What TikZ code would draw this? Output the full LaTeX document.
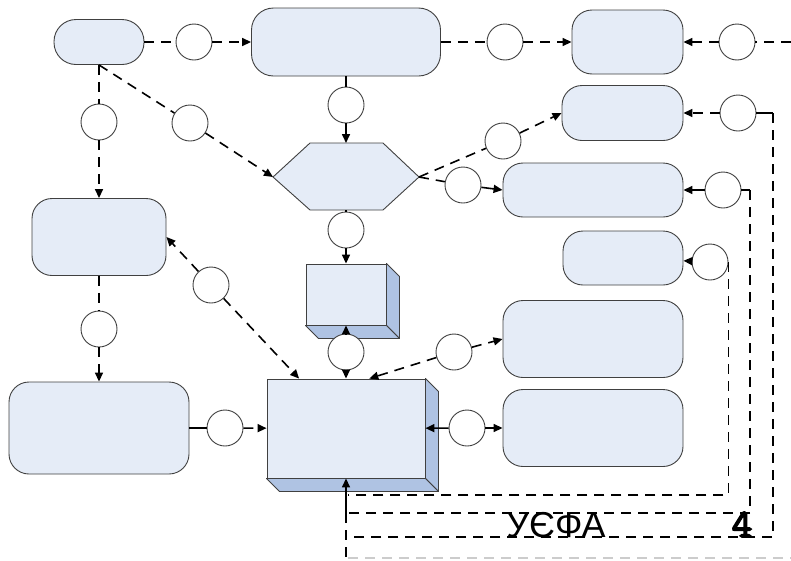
\documentclass[tikz,border=0pt]{standalone}
\usepackage{fontspec}
\usetikzlibrary{arrows.meta}
\newfontfamily\uefafont{Liberation Sans}
\newfontfamily\numfont[FakeBold=4]{Latin Modern Mono}
\definecolor{boxfill}{HTML}{E5ECF7}
\definecolor{boxside}{HTML}{AFC3E3}
\tikzset{
  proc/.style={draw=black!75, fill=boxfill, line width=0.9pt, rounded corners=20pt, inner sep=0pt},
  cube/.style={draw=black!75, fill=boxfill, line width=0.9pt, inner sep=0pt},
  side/.style={draw=black!75, fill=boxside, line width=0.9pt, line join=round},
  ring/.style={draw=black!75, fill=white, circle, line width=0.9pt, minimum size=36pt, inner sep=0pt},
  link/.style={line width=1.6pt},
  flow/.style={link, dash pattern=on 10pt off 7pt},
  tip/.style={-{Triangle[length=9pt,width=8pt]}},
}
\begin{document}
\begin{tikzpicture}[x=1pt, y=-1pt]
      \useasboundingbox (0,0) rectangle (791,560);

      % Rounded process boxes
      \node[proc, rounded corners=22pt, minimum width=90pt, minimum height=45pt] (pill) at (99,42) {};
      \node[proc, rounded corners=22pt, minimum width=189pt, minimum height=68pt] (toprect) at (346,42) {};
      \node[proc, minimum width=111pt, minimum height=64pt] (rr1) at (627.5,42) {};
      \node[proc, minimum width=121pt, minimum height=55pt] (rr2) at (622.5,113) {};
      \node[proc, minimum width=180pt, minimum height=54pt] (rr3) at (593,190) {};
      \node[proc, minimum width=120pt, minimum height=54pt] (rr4) at (623,258) {};
      \node[proc, minimum width=134pt, minimum height=77pt] (leftrect) at (99,237) {};
      \node[proc, minimum width=180pt, minimum height=92pt] (blrect) at (99,428) {};
      \node[proc, minimum width=180pt, minimum height=77pt] (rr5) at (593,339) {};
      \node[proc, minimum width=180pt, minimum height=77pt] (rr6) at (593,428) {};

      % Decision hexagon
      \filldraw[cube] (273,177) -- (310,143) -- (383,143) -- (419,177) -- (383,210) -- (310,210) -- cycle;
      \coordinate (hexN) at (346,143);
      \coordinate (hexS) at (346,210);
      \coordinate (hexW) at (273,177);
      \coordinate (hexE) at (419,177);

      % 3D boxes
      \node[cube, minimum width=80pt, minimum height=61pt] (smallbox) at (346,294.5) {};
      \filldraw[side] (smallbox.north east) -- ([shift={(13,13)}]smallbox.north east)
        -- ([shift={(13,13)}]smallbox.south east) -- (smallbox.south east) -- cycle;
      \filldraw[side] (smallbox.south west) -- ([shift={(13,13)}]smallbox.south west)
        -- ([shift={(13,13)}]smallbox.south east) -- (smallbox.south east) -- cycle;
      \node[cube, minimum width=158pt, minimum height=99pt] (bigbox) at (346,428.5) {};
      \filldraw[side] (bigbox.north east) -- ([shift={(13,13)}]bigbox.north east)
        -- ([shift={(13,13)}]bigbox.south east) -- (bigbox.south east) -- cycle;
      \filldraw[side] (bigbox.south west) -- ([shift={(13,13)}]bigbox.south west)
        -- ([shift={(13,13)}]bigbox.south east) -- (bigbox.south east) -- cycle;

      % Circles on the connectors
      \node[ring] (c1) at (194,42) {};
      \node[ring] (c2) at (505,42) {};
      \node[ring] (c3) at (737,42) {};
      \node[ring] (c4) at (346,105) {};
      \node[ring] (c5) at (99,122) {};
      \node[ring] (c6) at (190,123) {};
      \node[ring] (c7) at (503,141) {};
      \node[ring] (c8) at (463,185) {};
      \node[ring] (c9) at (723,190) {};
      \node[ring] (c10) at (738,113) {};
      \node[ring] (c11) at (346,230) {};
      \node[ring] (c12) at (710,262) {};
      \node[ring] (c13) at (211,285) {};
      \node[ring] (c14) at (99,329) {};
      \node[ring] (c15) at (346,352) {};
      \node[ring] (c16) at (454,352) {};
      \node[ring] (c17) at (225,428) {};
      \node[ring] (c18) at (467,428) {};

      % Connectors
      \draw[flow] (pill) -- (c1);
      \draw[flow, tip] (c1) -- (toprect);
      \draw[flow] (toprect) -- (c2);
      \draw[flow, tip] (c2) -- (rr1);
      \coordinate (edgeA) at (791,42);
      \draw[flow] (edgeA) -- (c3);
      \draw[flow, tip] (c3) -- (rr1);
      \draw[link] (toprect) -- (c4);
      \draw[link, tip] (c4) -- (hexN);
      \draw[flow] (pill.south) -- (c5);
      \draw[flow, tip] (c5) -- (leftrect);
      \draw[flow] (pill.south) -- (c6);
      \draw[flow, tip] (c6) -- (hexW);
      \draw[flow] (hexE) -- (c7);
      \draw[flow, tip] (c7) -- (rr2.west);
      \draw[flow] (hexE) -- (c8);
      \draw[link, tip] (c8) -- (rr3.west);
      \draw[link] (hexS) -- (c11);
      \draw[link, tip] (c11) -- (smallbox);
      \draw[link, tip] (c15) -- (smallbox);
      \draw[link, tip] (c15) -- (bigbox);
      \draw[flow, tip] (c13) -- (leftrect.east);
      \draw[flow, tip] (c13) -- (bigbox);
      \draw[flow] (leftrect) -- (c14);
      \draw[flow, tip] (c14) -- (blrect);
      \draw[link] (blrect) -- (c17);
      \draw[flow, tip] (c17) -- (bigbox);
      \draw[flow, tip] (c16) -- (bigbox.65);
      \draw[flow, tip] (c16) -- (rr5.west);
      \draw[link, tip] (c18) -- (bigbox);
      \draw[link, tip] (c18) -- (rr6);
      \draw[flow, tip] (c10) -- (rr2);
      \draw[link, tip] (c9) -- (rr3);
      \draw[link, tip] (c12) -- (rr4);

      % Feedback loops along the bottom
      \coordinate (loopA) at (348,495);
      \coordinate (turnB) at (750,190);
      \coordinate (loopB) at (346,513);
      \coordinate (turnC) at (773,113);
      \coordinate (loopC) at (348,537);
      \coordinate (footC) at (346,560);
      \coordinate (loopD) at (348,558);
      \coordinate (edgeD) at (791,558);
      \draw[flow] (c12.east) |- (loopA);
      \draw[link] (c9) -- (turnB);
      \draw[flow] (turnB) |- (loopB);
      \draw[link, tip] (loopB) -- (bigbox);
      \draw[link] (c10) -- (turnC);
      \draw[flow] (turnC) |- (loopC);
      \draw[flow] (loopB) -- (footC);
      \draw[flow, black!20] (loopD) -- (edgeD);

      % Labels
      \node[anchor=base, inner sep=0pt, font=\uefafont\fontsize{36}{36}\selectfont] (uefa) at (556,537) {УЄФА};
      \node[anchor=base, inner sep=0pt, font=\numfont\fontsize{40}{40}\selectfont] (num) at (742,537) {4};
    \end{tikzpicture}
\end{document}
